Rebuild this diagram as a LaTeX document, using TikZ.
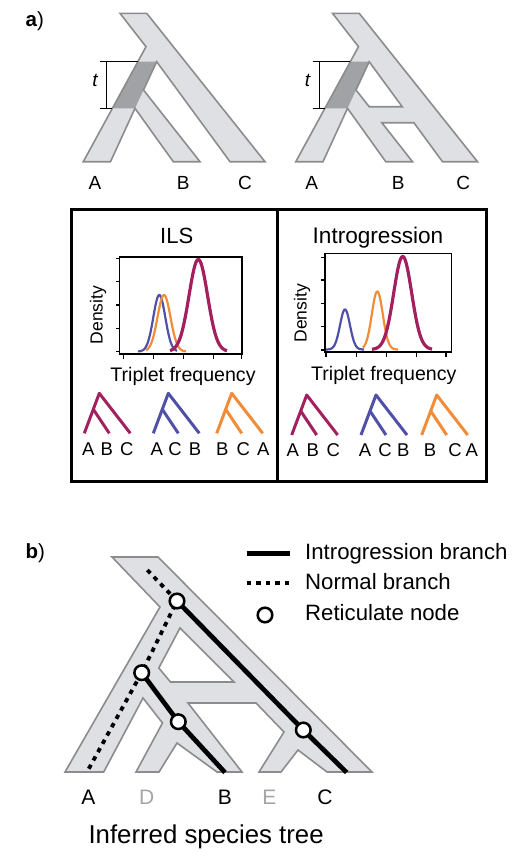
\documentclass[tikz,border=0pt]{standalone}
\usepackage{fontspec}
\setmainfont{Liberation Sans}
\definecolor{treefill}{RGB}{222,224,227}
\definecolor{treeedge}{RGB}{140,140,140}
\definecolor{treedark}{RGB}{160,162,165}
\definecolor{mag}{RGB}{163,32,95}
\definecolor{blu}{RGB}{80,80,168}
\definecolor{org}{RGB}{242,140,56}
\definecolor{lbl}{RGB}{165,165,165}
\newcommand{\mytrip}[3]{%
  \begin{scope}[shift={(#2,#3)}]
    \draw[trip,#1] (-15,40) -- (0,0) -- (31,40);
    \draw[trip,#1] (-6,16) -- (10,40);
  \end{scope}}
\begin{document}
\begin{tikzpicture}[x=1pt,y=-1pt,
  treeshape/.style={fill=treefill},
  treeline/.style={draw=treeedge,line width=1.6},
  darkpart/.style={fill=treedark},
  bracket/.style={line width=1.2},
  boxline/.style={line width=3},
  axisline/.style={line width=1.3},
  curve/.style={line width=2.2,line join=round},
  thickcurve/.style={line width=3.2,line join=round},
  trip/.style={line width=3,line join=round},
  introline/.style={line width=4.7},
  normline/.style={line width=3.8,dash pattern=on 4.5 off 5},
  retic/.style={circle,draw,line width=2.5,fill=white,minimum size=14.6,inner sep=0},
  txt/.style={inner sep=0,anchor=base},
  lab/.style={txt,font=\fontsize{19}{22}\selectfont},
  small/.style={txt,font=\fontsize{18.5}{22}\selectfont},
  leg/.style={inner sep=0,anchor=base west,font=\fontsize{22.2}{26}\selectfont},
  bl/.style={inner sep=0,anchor=base west,font=\fontsize{20.5}{24}\selectfont},
]
\useasboundingbox (0,0) rectangle (520,862);

% ---------- panel a label
\node[bl] (la) at (25.5,26.7) {\bfseries a\mdseries)};

% ---------- tree 1
\path[treeshape] (120,13.3) -- (146.7,13.3) -- (265,161.7) -- (230,161.7) -- (156.7,61.7) -- (143.5,90) -- (200,161.7) -- (173.3,161.7) -- (135,108.3) -- (110.5,161.7) -- (83.3,161.7) -- (146,46.7) -- cycle;
\path[darkpart] (137.8,61.7) -- (156.7,61.7) -- (135,108.3) -- (112.4,108.3) -- cycle;
\draw[treeline] (120,13.3) -- (146.7,13.3) -- (265,161.7) -- (230,161.7) -- (156.7,61.7) -- (143.5,90) -- (200,161.7) -- (173.3,161.7) -- (135,108.3) -- (110.5,161.7) -- (83.3,161.7) -- (146,46.7) -- cycle;
\draw[bracket] (100,61.7) -- (137.8,61.7);
\draw[bracket] (100,108.3) -- (112.4,108.3);
\draw[bracket] (106.7,61.7) -- (106.7,108.3);
\node[inner sep=0,font=\fontsize{19}{22}\selectfont\itshape] (t1) at (95,80) {t};
\node[lab] (a1A) at (95,189.3) {A};
\node[lab] (a1B) at (183.3,189.3) {B};
\node[lab] (a1C) at (245,189.3) {C};

% ---------- tree 2
\begin{scope}[shift={(212.5,0)}]
\path[treeshape,even odd rule] (120,13.3) -- (146.7,13.3) -- (265,161.7) -- (230,161.7) -- (201.4,122.7) -- (169.3,122.7) -- (200,161.7) -- (173.3,161.7) -- (135,108.3) -- (110.5,161.7) -- (83.3,161.7) -- (146,46.7) -- cycle
  (156.7,61.7) -- (189.7,106.7) -- (156.7,106.7) -- (143.5,90) -- cycle;
\path[darkpart] (137.8,61.7) -- (156.7,61.7) -- (135,108.3) -- (112.4,108.3) -- cycle;
\draw[treeline] (120,13.3) -- (146.7,13.3) -- (265,161.7) -- (230,161.7) -- (201.4,122.7) -- (169.3,122.7) -- (200,161.7) -- (173.3,161.7) -- (135,108.3) -- (110.5,161.7) -- (83.3,161.7) -- (146,46.7) -- cycle
  (156.7,61.7) -- (189.7,106.7) -- (156.7,106.7) -- (143.5,90) -- cycle;
\draw[bracket] (100,61.7) -- (137.8,61.7);
\draw[bracket] (100,108.3) -- (112.4,108.3);
\draw[bracket] (106.7,61.7) -- (106.7,108.3);
\node[inner sep=0,font=\fontsize{19}{22}\selectfont\itshape] (t2) at (95,80) {t};
\end{scope}
\node[lab] (a2A) at (311.7,189.3) {A};
\node[lab] (a2B) at (398.3,189.3) {B};
\node[lab] (a2C) at (463.3,189.3) {C};

% ---------- box
\draw[boxline] (71.5,209) rectangle (486,481);
\draw[boxline] (277.5,209) -- (277.5,481);

% left panel
\node[txt,font=\fontsize{22}{26}\selectfont] (ils) at (176.7,243.3) {ILS};
\draw[axisline] (119.5,257) rectangle (242,354);
\foreach \yy in {258.3,281.7,305,328.3,351.7} \draw[axisline] (119.5,\yy) -- (115.5,\yy);
\foreach \xx in {123.3,153.3,183.3,213.3,241.7} \draw[axisline] (\xx,354) -- (\xx,359);
\draw[curve,blu] plot[domain=138:177,samples=70] (\x,{351.5-56.5*exp(-((\x-159.3)^2)/72)});
\draw[curve,org] plot[domain=146:186,samples=70] (\x,{351.5-56.5*exp(-((\x-164)^2)/84.5)});
\draw[thickcurve,mag] plot[domain=170:227,samples=80] (\x,{351.5-92*exp(-((\x-198.3)^2)/173)});
\node[inner sep=0,rotate=90,font=\fontsize{17.5}{20}\selectfont] (dens1) at (98,315) {Density};
\node[txt,font=\fontsize{19.6}{23}\selectfont] (tf1) at (183,381.7) {Triplet frequency};
\mytrip{mag}{99.3}{393.3}
\mytrip{blu}{168.3}{393.3}
\mytrip{org}{231.7}{393.3}
\node[small] (l1) at (88.3,455) {A};
\node[small] (l2) at (106.7,455) {B};
\node[small] (l3) at (126.7,455) {C};
\node[small] (l4) at (156.7,455) {A};
\node[small] (l5) at (175,455) {C};
\node[small] (l6) at (195,455) {B};
\node[small] (l7) at (222.3,455) {B};
\node[small] (l8) at (243.3,455) {C};
\node[small] (l9) at (263.3,455) {A};

% right panel
\node[txt,font=\fontsize{22.6}{26}\selectfont] (intro) at (378,243.3) {Introgression};
\draw[axisline] (325,253.5) rectangle (451.5,352);
\foreach \yy in {257.3,280,303.3,326.7,350} \draw[axisline] (325,\yy) -- (321,\yy);
\foreach \xx in {326,356.7,386.7,416.7,446} \draw[axisline] (\xx,352) -- (\xx,357);
\draw[curve,blu] plot[domain=326:364,samples=70] (\x,{349.5-40*exp(-((\x-345)^2)/50)});
\draw[curve,org] plot[domain=363:398,samples=70] (\x,{349.5-58*exp(-((\x-377.3)^2)/60.5)});
\draw[thickcurve,mag] plot[domain=372:432,samples=80] (\x,{349.5-93*exp(-((\x-402.7)^2)/162)});
\node[inner sep=0,rotate=90,font=\fontsize{17.5}{20}\selectfont] (dens2) at (302,313.3) {Density};
\node[txt,font=\fontsize{19.6}{23}\selectfont] (tf2) at (383.8,380) {Triplet frequency};
\mytrip{mag}{306.7}{395}
\mytrip{blu}{376}{395}
\mytrip{org}{436.7}{395}
\node[small] (r1) at (292.7,456.7) {A};
\node[small] (r2) at (312.7,456.7) {B};
\node[small] (r3) at (333.3,456.7) {C};
\node[small] (r4) at (365,456.7) {A};
\node[small] (r5) at (385,456.7) {C};
\node[small] (r6) at (403.3,456.7) {B};
\node[small] (r7) at (430,456.7) {B};
\node[small] (r8) at (455,456.7) {C};
\node[small] (r9) at (471.7,456.7) {A};

% ---------- panel b
\node[bl] (lb) at (25.5,558.3) {\bfseries b\mdseries)};
% legend
\coordinate (g1a) at (246.7,553.3);
\coordinate (g1b) at (290,553.3);
\coordinate (g2a) at (246.7,582.7);
\coordinate (g2b) at (290,582.7);
\draw[introline] (g1a) -- (g1b);
\draw[normline] (g2a) -- (g2b);
\node[retic] (g3) at (265,615) {};
\node[leg] (lg1) at (305,559.3) {Introgression branch};
\node[leg] (lg2) at (305,589.3) {Normal branch};
\node[leg] (lg3) at (305,620) {Reticulate node};

% tree
\path[treeshape,even odd rule] (112,557) -- (158,557) -- (372,772) -- (327,772) -- (298,750) -- (281,772) -- (259,772) -- (284,732) -- (256,703) -- (188,703) -- (242,772) -- (217,772) -- (177,743) -- (159,772) -- (136,772) -- (162.5,723) -- (143,698) -- (103.7,772) -- (65,772) -- (160,607) -- cycle
  (180,628) -- (234,682) -- (170.5,682) -- (158.8,668) -- cycle;
\draw[treeline] (112,557) -- (158,557) -- (372,772) -- (327,772) -- (298,750) -- (281,772) -- (259,772) -- (284,732) -- (256,703) -- (188,703) -- (242,772) -- (217,772) -- (177,743) -- (159,772) -- (136,772) -- (162.5,723) -- (143,698) -- (103.7,772) -- (65,772) -- (160,607) -- cycle
  (180,628) -- (234,682) -- (170.5,682) -- (158.8,668) -- cycle;

\coordinate (d0) at (147.3,570);
\coordinate (c1) at (177,601);
\coordinate (c2) at (141.7,672.7);
\coordinate (c3) at (178.3,721.7);
\coordinate (c4) at (303.3,730);
\coordinate (eA) at (86.7,772.5);
\coordinate (eB) at (225,772.5);
\coordinate (eC) at (346.7,772.5);
\draw[normline] (d0) -- (c1) -- (c2) -- (eA);
\draw[introline] (c1) -- (c4) -- (eC);
\draw[introline] (c2) -- (c3) -- (eB);
\node[retic] (n1) at (c1) {};
\node[retic] (n2) at (c2) {};
\node[retic] (n3) at (c3) {};
\node[retic] (n4) at (c4) {};

\node[txt,font=\fontsize{21}{24}\selectfont] (bA) at (88.3,804) {A};
\node[txt,font=\fontsize{21}{24}\selectfont,text=lbl] (bD) at (146.7,804) {D};
\node[txt,font=\fontsize{21}{24}\selectfont] (bB) at (225,804) {B};
\node[txt,font=\fontsize{21}{24}\selectfont,text=lbl] (bE) at (269.3,804) {E};
\node[txt,font=\fontsize{21}{24}\selectfont] (bC) at (325,804) {C};
\node[inner sep=0,anchor=base west,font=\fontsize{25.8}{30}\selectfont] (ist) at (88.3,843.3) {Inferred species tree};
\end{tikzpicture}
\end{document}
